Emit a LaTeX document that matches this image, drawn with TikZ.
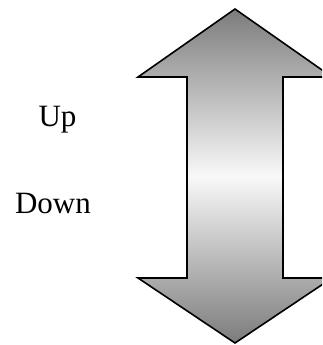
\documentclass[tikz,border=0pt]{standalone}
\usepackage{fontspec}
\setmainfont{Liberation Serif}
\usepackage{tikz}
\definecolor{Shade}{HTML}{7C7C7C}
\definecolor{Light}{HTML}{F8F8F8}

\begin{document}
\begin{tikzpicture}[x=1pt,y=-1pt,every node/.style={font=\fontsize{31}{36}\selectfont},
  arrowbody/.style={draw=black,line width=1.6pt,line join=miter,top color=Shade,bottom color=Shade,middle color=Light}]
\useasboundingbox (0,0) rectangle (322,345);
\clip (0,0) rectangle (322,345);
% two-headed arrow
\draw[arrowbody] (235,9) -- (138,77) -- (187,77) -- (187,278) -- (138,278)
  -- (235,343) -- (332,278) -- (283,278) -- (283,77) -- (332,77) -- cycle;
\node[anchor=base] (up) at (57.5,126.7) {Up};
\node[anchor=base] (down) at (53,213.3) {Down};
\end{tikzpicture}
\end{document}
